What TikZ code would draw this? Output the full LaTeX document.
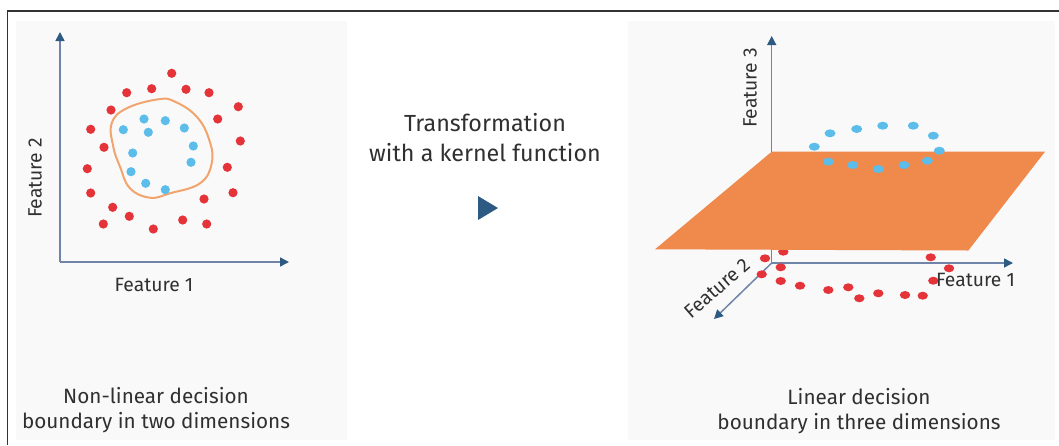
\documentclass[tikz,border=0pt]{standalone}
\usepackage{fontspec}
\setmainfont{Fira Sans}
\usetikzlibrary{arrows.meta}
\definecolor{panel}{HTML}{F9F9F9}
\definecolor{axisline}{HTML}{7083A8}
\definecolor{axishead}{HTML}{2C5A82}
\definecolor{reddot}{HTML}{E4343A}
\definecolor{bluedot}{HTML}{5CBDEB}
\definecolor{curve}{HTML}{F2A46E}
\definecolor{plane}{HTML}{EF8A4C}
\definecolor{txt}{HTML}{303030}
\tikzset{
  axis/.style={draw=axisline, line width=1.5pt, -{Triangle[length=9pt,width=9pt,color=axishead]}},
  axlabel/.style={text=txt, font=\fontsize{19.3}{22}\selectfont, inner sep=0pt},
  caption/.style={text=txt, font=\fontsize{20.7}{24.5}\selectfont, align=center, inner sep=0pt},
  rd/.style={fill=reddot},
  bd/.style={fill=bluedot},
}
\begin{document}
\begin{tikzpicture}[x=1pt,y=-1pt]
\useasboundingbox (0,0) rectangle (1059,445);
\fill[white] (0,0) rectangle (1059,445);
% frame
\draw[line width=1.5pt, draw=black!80] (7.5,445) -- (7.5,11) -- (1059,11);
% panels
\fill[panel] (16,21) rectangle (347,440);
\fill[panel] (628,21) rectangle (1055,440);

% ---------- left plot ----------
\coordinate (o1) at (60,262);
\coordinate (y1) at (60,32);
\coordinate (x1) at (289,262);
\draw[axis] (o1) -- (y1);
\draw[axis] (o1) -- (x1);
\node[axlabel, rotate=90] (f2l) at (35,178) {Feature 2};
\node[axlabel] (f1l) at (154,285) {Feature 1};

\draw[curve, line width=2pt] plot[smooth cycle, tension=0.7] coordinates {
 (111.7,123.3) (126.7,108.3) (158.3,99.3) (175,101.7) (196.7,116.7) (209.3,140)
 (211.7,163.3) (200,183.3) (170,193.3) (150,197.7) (130,188.3) (120,166.7) (113.3,146.7)};

\foreach \p in {(171.7,73.3),(126.7,92.7),(151.7,88.7),(186,89.3),(209,92.7),(238.3,106.7),
 (111,110),(217.7,119),(90.7,129.3),(240.3,141),(104,147.3),(87.3,168.7),(227.3,167.3),
 (90.7,193),(233,192.7),(204,199),(112.7,207.3),(129.3,216.3),(182.7,220),(206.7,224),
 (103.3,224),(153.3,229)}
  \fill[rd] \p circle (4.6);
\foreach \p in {(144,119),(165.3,120.7),(123.3,129.7),(148.3,132.3),(184.3,128),(193.3,146),
 (132.7,153),(191,162.3),(131,171.7),(145.7,183.3),(165.3,189.7)}
  \fill[bd] \p circle (4.6);

\node[caption] (capl) at (156,410) {Non-linear decision\\boundary in two dimensions};

% ---------- middle ----------
\node[caption, font=\fontsize{23.3}{30}\selectfont] (mid) at (485,138) {Transformation\\with a kernel function};
\fill[axishead] (478,196) -- (498,208) -- (478,220) -- cycle;
\node[inner sep=0pt] (tri) at (486,208) {};

% ---------- right plot ----------
\coordinate (o3) at (771.7,263);
\coordinate (z3) at (771.7,36);
\coordinate (x3) at (1013,263);
\coordinate (y3) at (714,319);
\draw[axis] (o3) -- (z3);
\draw[axis] (o3) -- (x3);
\draw[axis] (o3) -- (y3);

\foreach \p in {(783.3,251.7),(765,258.3),(780.7,267.3),(761.7,274.3),(780.7,281),(800,285.7),
 (828.3,290),(848.3,287.3),(859.3,298.3),(878.3,293.3),(905,295),(922.7,295.7),(933.3,280.7),
 (949,268.3),(930.7,257.3)}
  \fill[rd] \p ellipse (5.2 and 4);

\fill[plane] (771.7,151.7) -- (1045,151.7) -- (968.3,250.5) -- (655,249.3) -- cycle;

\foreach \p in {(814.3,146.7),(830,133.3),(856.7,129),(882.7,125.7),(913.3,125.7),(933.3,135.7),
 (939.3,150.7),(927.3,160.7),(904,165),(878.3,169),(852.7,165),(828.3,161.7)}
  \fill[bd] \p ellipse (5.5 and 4);

\node[axlabel, rotate=90] (f3r) at (750,88) {Feature 3};
\node[axlabel, rotate=41] (f2r) at (717,288) {Feature 2};
\node[axlabel] (f1r) at (975.5,280) {Feature 1};

\node[caption] (capr) at (859,411) {Linear decision\\boundary in three dimensions};
\end{tikzpicture}
\end{document}
